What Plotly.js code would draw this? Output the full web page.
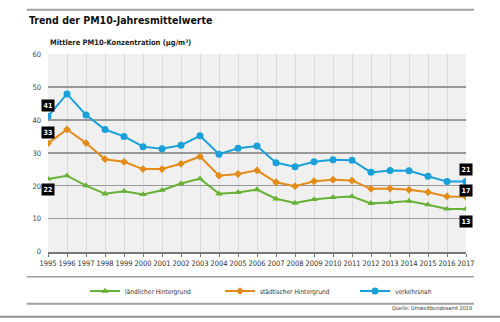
<!DOCTYPE html>
<html>
<head>
<meta charset="utf-8">
<script src="https://cdn.plot.ly/plotly-3.0.1.min.js"></script>
<style>html,body{margin:0;padding:0;background:#fff;}#chart{width:500px;height:322px;}</style>
</head>
<body>
<div id="chart"></div>
<script>
const years = [1995,1996,1997,1998,1999,2000,2001,2002,2003,2004,2005,2006,2007,2008,2009,2010,2011,2012,2013,2014,2015,2016,2017];
const laendlich = [22.1,23.1,20.1,17.6,18.4,17.4,18.7,20.7,22.2,17.6,18.0,18.9,16.1,14.8,15.9,16.5,16.8,14.7,15.0,15.4,14.3,13.0,13.0];
const staedtisch = [32.9,37.1,33.0,28.1,27.3,25.1,25.1,26.7,28.9,23.1,23.6,24.7,21.1,19.9,21.4,21.9,21.6,19.1,19.2,18.8,18.1,16.8,16.7];
const verkehr = [41.1,47.9,41.5,37.1,35.0,31.9,31.3,32.3,35.2,29.6,31.4,32.1,27.0,25.8,27.3,27.9,27.8,24.1,24.7,24.6,22.9,21.3,21.3];
const seriesNames = ['ländlicher Hintergrund','städtischer Hintergrund','verkehrsnah'];
const colors = ['#66b236','#e38b17','#1aa0d9'];
const symbols = ['triangle-up','diamond','circle'];
const yTicks = [0,10,20,30,40,50,60];
const titleText = 'Trend der PM10-Jahresmittelwerte';
const subtitleText = 'Mittlere PM10-Konzentration (µg/m³)';
const sourceText = 'Quelle: Umweltbundesamt 2018';

const FONT = '"Liberation Sans Narrow","DejaVu Sans Condensed",Roboto,sans-serif';
const data = [laendlich, staedtisch, verkehr];
const sizes = [6.5,6,7];
const traces = data.map((vals,i)=>({
  x: years, y: vals, name: seriesNames[i], type:'scatter', mode:'lines+markers',
  line:{color:colors[i], width:2},
  marker:{color:colors[i], symbol:symbols[i], size:sizes[i]}
}));

// value labels at first and last year
const labelShift = {first:[-11,11,11], last:[-13,6,12]};
const annotations = [];
data.forEach((vals,i)=>{
  annotations.push({x:years[0], y:vals[0], text:'<b>'+Math.round(vals[0])+'</b>', showarrow:false,
    yshift:labelShift.first[i], bgcolor:'#000', font:{color:'#fff', size:7, family:FONT}, borderpad:1.5});
  const n = vals.length-1;
  annotations.push({x:years[n], y:vals[n], text:'<b>'+Math.round(vals[n])+'</b>', showarrow:false,
    yshift:labelShift.last[i], bgcolor:'#000', font:{color:'#fff', size:7, family:FONT}, borderpad:1.5});
});
annotations.push({xref:'paper', yref:'paper', x:0, y:1.057, xanchor:'left', yanchor:'middle', showarrow:false,
  text:'<b>'+subtitleText+'</b>', font:{size:7.5, color:'#222', family:FONT}});
annotations.push({xref:'paper', yref:'paper', x:1.019, y:-0.285, xanchor:'right', yanchor:'middle', showarrow:false,
  text:sourceText, font:{size:5.5, color:'#333', family:FONT}});

const shapes = [
  {type:'line', xref:'paper', yref:'paper', x0:-0.051, x1:1.019, y0:1.2237, y1:1.2237, line:{color:'#a0a0a0', width:2}},
  {type:'line', xref:'paper', yref:'paper', x0:-0.051, x1:1.019, y0:-0.1247, y1:-0.1247, line:{color:'#a0a0a0', width:1.5}},
  {type:'line', xref:'paper', yref:'paper', x0:-0.051, x1:1.019, y0:-0.261, y1:-0.261, line:{color:'#a0a0a0', width:2}},
  {type:'line', xref:'paper', yref:'paper', x0:-0.12, x1:1.09, y0:-0.327, y1:-0.327, line:{color:'#909090', width:2}}
];

const layout = {
  width:500, height:322,
  margin:{l:48, r:34, t:54, b:70},
  paper_bgcolor:'#fff', plot_bgcolor:'#f0f0f0',
  font:{family:FONT, color:'#333'},
  title:{text:'<b>'+titleText+'</b>', xref:'container', yref:'container', x:0.058, xanchor:'left', y:0.938, yanchor:'middle',
    font:{size:10.5, color:'#111', family:FONT}},
  xaxis:{range:[1995,2017], dtick:1, tick0:1995, tickangle:0, showgrid:true, gridcolor:'#dadada', gridwidth:1,
    showline:true, linecolor:'#777', linewidth:1.5, ticks:'outside', ticklen:3, tickcolor:'#777',
    tickfont:{size:7.5, color:'#333'}, zeroline:false, fixedrange:true},
  yaxis:{range:[-0.05,60], tickmode:'array', tickvals:yTicks, ticktext:yTicks.map(String), showgrid:true, gridcolor:'#999', gridwidth:1.2, zeroline:false,
    tickfont:{size:7.5, color:'#444'}, ticklabelstandoff:6, fixedrange:true},
  showlegend:true,
  legend:{orientation:'h', xref:'container', yref:'container', x:0.17, y:0.096, xanchor:'left', yanchor:'middle',
    entrywidth:90, entrywidthmode:'pixels', font:{size:6.5, color:'#333'}, itemwidth:30, bgcolor:'rgba(0,0,0,0)'},
  annotations: annotations,
  shapes: shapes
};
Plotly.newPlot('chart', traces, layout, {displayModeBar:false, staticPlot:true});
</script>
</body>
</html>
